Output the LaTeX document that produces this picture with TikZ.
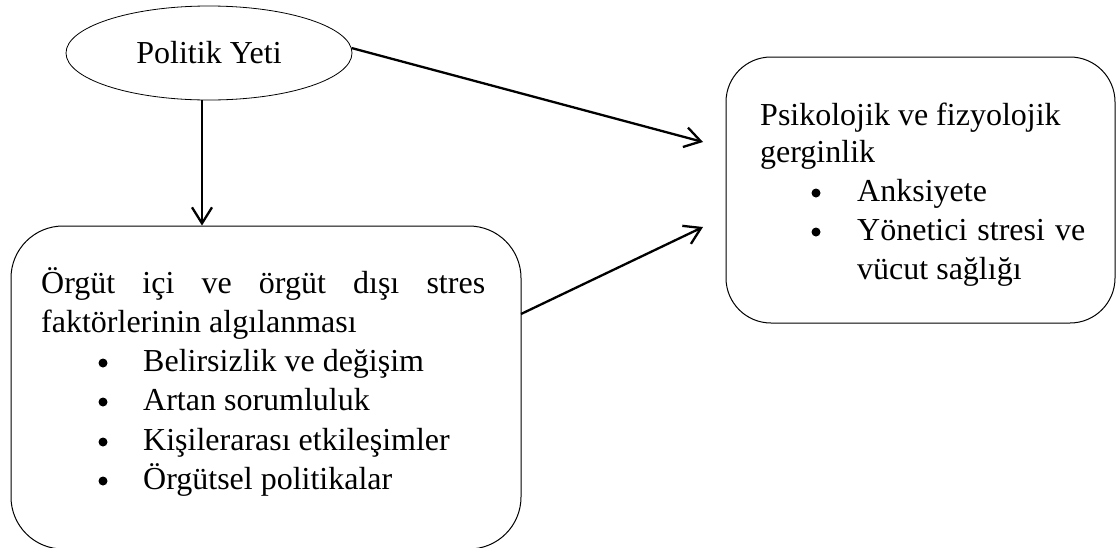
\documentclass[tikz,border=0pt]{standalone}
\usepackage{fontspec}
\setmainfont{Liberation Serif}
\usetikzlibrary{arrows.meta,shapes.geometric}
\begin{document}
\begin{tikzpicture}[x=1pt,y=-1pt,
  box/.style={draw, line width=1pt, rounded corners=#1, inner sep=0pt},
  txt/.style={anchor=base west, inner sep=0pt, font=\fontsize{32}{39}\selectfont},
  arr/.style={line width=2.3pt, -{Straight Barb[length=16pt,width=20pt]}},
  bul/.style={fill=black}]
\useasboundingbox (0,0) rectangle (1116,547);

% shapes
\node[draw, ellipse, line width=0.8pt, minimum width=286pt, minimum height=94pt,
      inner sep=0pt, font=\fontsize{32}{39}\selectfont] (yeti) at (209,53) {Politik Yeti};
\node[box=52pt, minimum width=510pt, minimum height=323pt] (lbox) at (266,387.5) {};
\node[box=45pt, minimum width=389pt, minimum height=266pt] (rbox) at (920.5,190) {};

% left box text
\node[txt] (l1) at (41,293) {\makebox[444pt][s]{Örgüt içi ve örgüt dışı stres}};
\node[txt] (l2) at (41,332) {faktörlerinin algılanması};
\node[txt] (l3) at (143,371) {Belirsizlik ve değişim};
\node[txt] (l4) at (143,410) {Artan sorumluluk};
\node[txt] (l5) at (143,450) {Kişilerarası etkileşimler};
\node[txt] (l6) at (143,489) {Örgütsel politikalar};
\fill[bul] (103,363) circle (4.5pt);
\fill[bul] (103,402) circle (4.5pt);
\fill[bul] (103,442) circle (4.5pt);
\fill[bul] (103,481) circle (4.5pt);

% right box text
\node[txt] (r1) at (760,125) {Psikolojik ve fizyolojik};
\node[txt] (r2) at (760,162) {gerginlik};
\node[txt] (r3) at (857,201) {Anksiyete};
\node[txt] (r4) at (857,240) {\makebox[228pt][s]{Yönetici stresi ve}};
\node[txt] (r5) at (857,279) {vücut sağlığı};
\fill[bul] (816,193) circle (4.5pt);
\fill[bul] (816,232) circle (4.5pt);

% connectors
\coordinate (t1) at (703,142);
\coordinate (t2) at (703,227);
\coordinate (s2) at (521,314);
\coordinate (vx) at (202,0);
\draw[arr] (yeti.2.4) -- (t1);
\draw[arr] (s2) -- (t2);
\draw[arr] (yeti.south -| vx) -- (lbox.north -| vx);
\end{tikzpicture}
\end{document}
